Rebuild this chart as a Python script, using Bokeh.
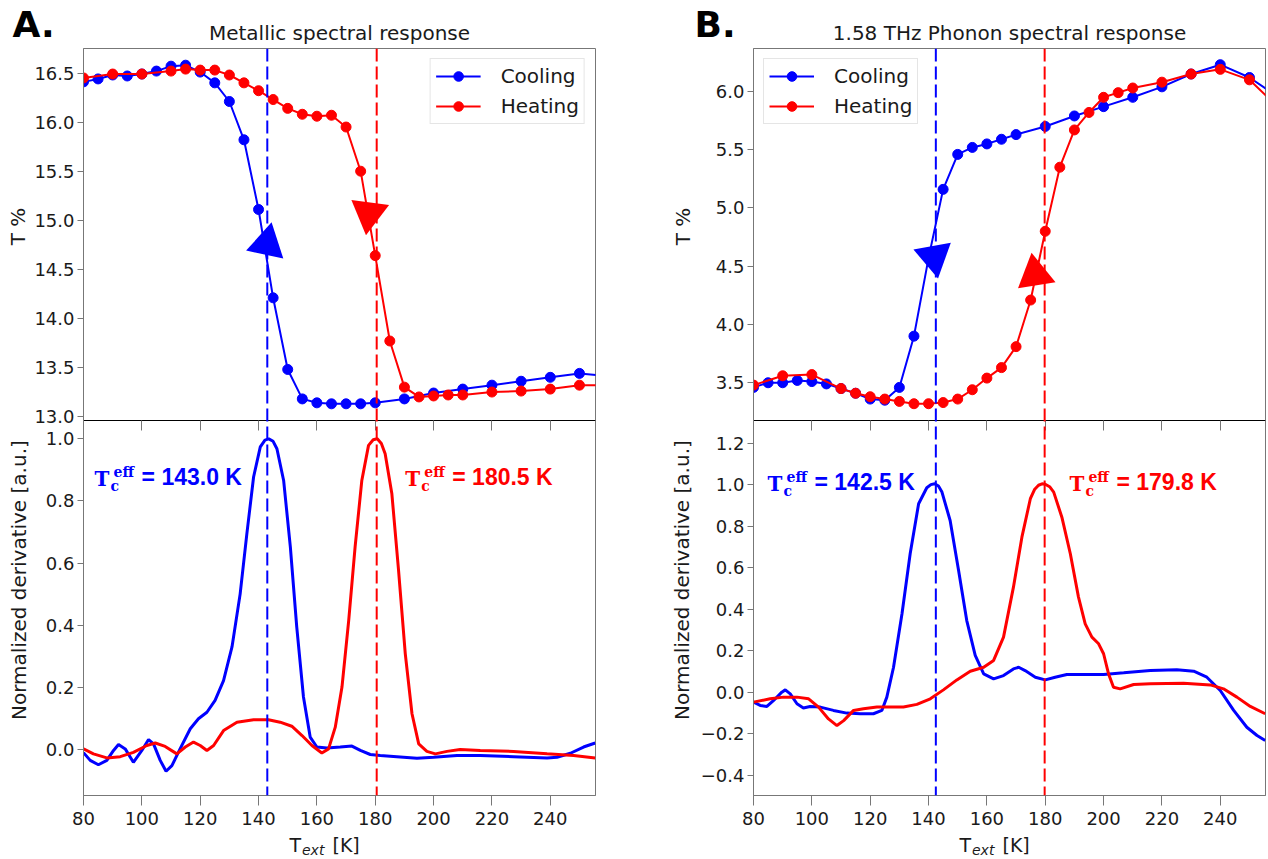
import math
from bokeh.plotting import figure
from bokeh.layouts import row, column
from bokeh.models import (Range1d, FixedTicker, Span, Label, LinearAxis,
                          CustomJSTickFormatter)
from bokeh.embed import file_html
from bokeh.resources import INLINE

# ---------------------------------------------------------------- data
# Panel A : metallic spectral response (T %)
A_cool_T = [80, 85, 90, 95, 100, 105, 110, 115, 120, 125, 130, 135, 140, 145, 150,
            155, 160, 165, 170, 175, 180, 190, 200, 210, 220, 230, 240, 250, 260]
A_cool_v = [16.41, 16.44, 16.48, 16.47, 16.49, 16.52, 16.57, 16.58, 16.51, 16.40,
            16.21, 15.82, 15.11, 14.21, 13.48, 13.18, 13.14, 13.13, 13.13, 13.13,
            13.14, 13.18, 13.24, 13.28, 13.32, 13.36, 13.40, 13.44, 13.41]
A_heat_T = [80, 90, 100, 110, 115, 120, 125, 130, 135, 140, 145, 150, 155, 160, 165,
            170, 175, 180, 185, 190, 195, 200, 205, 210, 220, 230, 240, 250, 260]
A_heat_v = [16.45, 16.49, 16.49, 16.52, 16.54, 16.53, 16.53, 16.48, 16.40, 16.32,
            16.23, 16.14, 16.08, 16.06, 16.07, 15.95, 15.50, 14.64, 13.77, 13.30,
            13.20, 13.21, 13.22, 13.22, 13.25, 13.26, 13.28, 13.32, 13.32]

# Panel A : normalized derivative
A_dcool_T = [80, 82.3, 85.1, 88, 90.3, 92, 94.3, 97.1, 100, 102.3, 104, 106.3, 108.3,
             110.3, 113.1, 116.6, 119.4, 122.3, 125.1, 128, 130.9, 133.7, 136, 138.3,
             140.6, 142.2, 143.5, 145.0, 146.3, 148.6, 150.9, 153.1, 155.4, 157.7, 160,
             163.4, 168, 172, 174.9, 178.3, 181.7, 187.4, 194.3, 200, 208, 216, 227.4,
             238.9, 242.3, 246.9, 251.4, 255.4]
A_dcool_v = [-0.01, -0.035, -0.049, -0.035, -0.003, 0.016, 0.002, -0.041, -0.003,
             0.032, 0.018, -0.035, -0.07, -0.052, 0.002, 0.067, 0.099, 0.12, 0.158,
             0.222, 0.33, 0.501, 0.695, 0.877, 0.974, 0.996, 1.0, 0.992, 0.968, 0.866,
             0.652, 0.394, 0.169, 0.04, 0.008, 0.005, 0.008, 0.011, -0.003, -0.016,
             -0.019, -0.023, -0.028, -0.025, -0.019, -0.019, -0.023, -0.027, -0.025,
             -0.012, 0.008, 0.021]
A_dheat_T = [80, 83.4, 88, 92.6, 97.1, 101.7, 104.6, 108, 112, 114.9, 117.7, 120,
             122.3, 124.6, 128, 132.6, 138.3, 143.4, 147.4, 151.4, 154.9, 158.3, 161.7,
             164, 166.3, 168.6, 170.9, 173.1, 175.4, 177.7, 179.3, 180.7, 182.1, 183.4,
             185.7, 188, 190.3, 192.6, 194.9, 197.7, 200.6, 204.6, 209.1, 216, 227.4,
             238.9, 248, 255.4]
A_dheat_v = [0.002, -0.014, -0.027, -0.023, -0.009, 0.013, 0.021, 0.01, -0.014, 0.008,
             0.024, 0.013, -0.003, 0.013, 0.061, 0.088, 0.096, 0.096, 0.088, 0.075,
             0.045, 0.013, -0.011, 0.002, 0.072, 0.201, 0.415, 0.652, 0.866, 0.979,
             0.997, 1.0, 0.985, 0.952, 0.823, 0.576, 0.308, 0.115, 0.018, -0.006,
             -0.014, -0.006, 0.0, -0.003, -0.006, -0.014, -0.019, -0.027]

# Panel B : 1.58 THz phonon spectral response (T %)
B_cool_T = [80, 85, 90, 95, 100, 105, 110, 115, 120, 125, 130, 135, 140, 145, 150,
            155, 160, 165, 170, 180, 190, 200, 210, 220, 230, 240, 250, 260]
B_cool_v = [3.46, 3.50, 3.50, 3.52, 3.51, 3.49, 3.45, 3.41, 3.36, 3.35, 3.46, 3.90,
            4.57, 5.16, 5.46, 5.52, 5.55, 5.59, 5.63, 5.70, 5.79, 5.87, 5.95, 6.04,
            6.15, 6.23, 6.12, 5.95]
B_heat_T = [80, 90, 100, 110, 115, 120, 125, 130, 135, 140, 145, 150, 155, 160, 165,
            170, 175, 180, 185, 190, 195, 200, 205, 210, 220, 230, 240, 250, 260]
B_heat_v = [3.48, 3.56, 3.57, 3.45, 3.41, 3.38, 3.36, 3.34, 3.32, 3.32, 3.33, 3.36,
            3.44, 3.54, 3.63, 3.81, 4.21, 4.80, 5.35, 5.67, 5.82, 5.95, 5.99, 6.03,
            6.08, 6.15, 6.19, 6.10, 5.86]

# Panel B : normalized derivative
B_dcool_T = [80, 82.3, 84.6, 86.9, 89.7, 90.9, 92.6, 94.9, 97.1, 99.4, 102.9, 107.4,
             112, 116.6, 121.1, 124, 125.7, 128, 130.9, 133.7, 136.6, 139.4, 140.8,
             142.1, 143.4, 144.6, 147.4, 150.3, 153.1, 156, 158.9, 162.3, 165.7, 169.1,
             170.9, 173.1, 176.6, 180, 183.4, 187.4, 193.1, 200, 206.9, 216, 225.1,
             230.9, 235.4, 240, 244.6, 249.1, 252.6, 255.4]
B_dcool_v = [-0.048, -0.064, -0.069, -0.04, 0.0, 0.011, -0.008, -0.056, -0.076,
             -0.069, -0.072, -0.088, -0.101, -0.104, -0.104, -0.088, -0.024, 0.12,
             0.378, 0.667, 0.908, 0.985, 1.0, 1.004, 0.993, 0.964, 0.827, 0.586, 0.345,
             0.177, 0.088, 0.064, 0.08, 0.112, 0.12, 0.104, 0.072, 0.059, 0.072,
             0.085, 0.085, 0.085, 0.093, 0.104, 0.108, 0.101, 0.072, 0.008, -0.088,
             -0.169, -0.209, -0.233]
B_dheat_T = [80, 85.7, 90.3, 94.9, 98.9, 102.3, 105.7, 108.6, 110.9, 114.3, 117.7,
             122.3, 126.9, 131.4, 136, 140.6, 145.1, 149.7, 154.3, 158.9, 162.3, 165.7,
             169.1, 172, 174.9, 176.4, 177.7, 178.9, 180, 181.5, 182.9, 185.7, 188.6,
             191.4, 193.7, 196, 198.3, 200, 201.7, 203.4, 205.7, 210.3, 216, 227.4,
             236.6, 241.1, 245.7, 250.3, 255.4]
B_dheat_v = [-0.048, -0.032, -0.024, -0.024, -0.032, -0.072, -0.129, -0.161, -0.137,
             -0.088, -0.08, -0.072, -0.072, -0.072, -0.059, -0.032, 0.011, 0.059,
             0.101, 0.12, 0.153, 0.265, 0.506, 0.747, 0.932, 0.978, 0.997, 1.004,
             1.002, 0.99, 0.964, 0.843, 0.667, 0.458, 0.329, 0.265, 0.233, 0.185,
             0.088, 0.024, 0.016, 0.037, 0.04, 0.043, 0.035, 0.016, -0.024, -0.069,
             -0.104]

# effective critical temperatures
A_tc_cool, A_tc_heat = 143.0, 180.5
B_tc_cool, B_tc_heat = 142.5, 179.8

# direction arrows (T, value, angle in rad) : cooling, heating
A_arrow_T = [142.9, 177.8]
A_arrow_v = [14.76, 15.07]
A_arrow_a = [-0.21, -(math.pi + 0.13)]
B_arrow_T = [141.9, 176.5]
B_arrow_v = [4.58, 4.43]
B_arrow_a = [-(math.pi - 0.18), 0.16]

# ticks
x_ticks = [80, 100, 120, 140, 160, 180, 200, 220, 240]
A_top_ticks = [13.0, 13.5, 14.0, 14.5, 15.0, 15.5, 16.0, 16.5]
A_bot_ticks = [0.0, 0.2, 0.4, 0.6, 0.8, 1.0]
B_top_ticks = [3.5, 4.0, 4.5, 5.0, 5.5, 6.0]
B_bot_ticks = [-0.4, -0.2, 0.0, 0.2, 0.4, 0.6, 0.8, 1.0, 1.2]

# ---------------------------------------------------------------- style
BLUE = "#0000ff"
RED = "#ff0000"
TXT = "#1a1a1a"
GRAY = "#777777"
FONT = "DejaVu Sans"
X_RANGE = (80, 255.5)
FRAME_W = 512
TOP_H = 372          # upper sub-plot height (px)
BOT_H = 375          # lower sub-plot height (px)
HEADER_H = 46
FOOTER_H = 23
TOTAL_W = 1268
PANEL_H = 2 + TOP_H + BOT_H + 40
MID = 0.346          # centre of the em box above the baseline (em)

A_LEFT, A_RIGHT, A_STRIP = 53, 10, 30
B_LEFT, B_RIGHT = 59, 3
B_STRIP = TOTAL_W - (A_STRIP + A_LEFT + FRAME_W + A_RIGHT) - (B_LEFT + FRAME_W + B_RIGHT)


def style_axis(ax, ticks, tick_out, standoff):
    ax.ticker = FixedTicker(ticks=ticks)
    ax.major_tick_out = tick_out
    ax.major_tick_in = 0
    ax.minor_tick_line_color = None
    ax.major_tick_line_color = GRAY
    ax.axis_line_color = GRAY
    ax.major_label_text_font = FONT
    ax.major_label_text_font_size = "18px"
    ax.major_label_text_color = TXT
    ax.major_label_standoff = standoff


def lbl(fig, text, x, y, size, font=FONT, style="normal", color=TXT, align="left",
        x_off=0, base_off=0, angle=0):
    """label placed by its alphabetic baseline (y) using the middle anchor"""
    fig.add_layout(Label(x=x, y=y, x_offset=x_off, y_offset=base_off + MID * size,
                         text=text, text_font=font, text_font_style=style,
                         text_font_size=f"{size}px", text_color=color,
                         text_align=align, text_baseline="middle", angle=angle))


def tc_annotation(fig, x, y, tc, color):
    lbl(fig, "T", x, y, 20, font="DejaVu Serif", style="bold", color=color)
    lbl(fig, "c", x, y, 14, font="DejaVu Serif", style="bold", color=color,
        x_off=16, base_off=-5)
    lbl(fig, "eff", x, y, 14, font="DejaVu Serif", style="bold", color=color,
        x_off=19, base_off=9)
    lbl(fig, f"= {tc:.1f} K", x, y, 23, font="Liberation Sans", style="bold",
        color=color, x_off=47)


def panel(cT, cv, hT, hv, dcT, dcv, dhT, dhv, tcc, tch, arT, arv, ara,
          top_lim, top_ticks, bot_lim, bot_ticks, legend_loc, left_b, right_b,
          ann_c, ann_h, ann_y):
    total = TOP_H + BOT_H
    b0 = bot_lim[0]
    bot_end = b0 + (bot_lim[1] - b0) * total / BOT_H
    top_start = top_lim[1] - (top_lim[1] - top_lim[0]) * total / TOP_H
    k = (bot_end - b0) / (top_lim[1] - top_start)

    p = figure(frame_width=FRAME_W, frame_height=total,
               x_range=Range1d(*X_RANGE), y_range=Range1d(b0, bot_end),
               output_backend="svg", toolbar_location=None,
               min_border_left=left_b, min_border_right=right_b,
               min_border_top=2, min_border_bottom=40)
    p.extra_y_ranges = {"top": Range1d(top_start, top_lim[1])}
    p.xgrid.visible = False
    p.ygrid.visible = False
    p.outline_line_color = GRAY
    p.background_fill_color = "white"
    p.border_fill_color = "white"

    # one left axis carrying the ticks of both stacked sub-plots
    top_pos = [b0 + (v - top_start) * k for v in top_ticks]
    ax = p.yaxis[0]
    style_axis(ax, list(bot_ticks) + top_pos, 6, 3)
    ax.formatter = CustomJSTickFormatter(
        args=dict(sep=bot_lim[1], b0=b0, ts=top_start, k=k),
        code="""
        let v = tick;
        if (tick > sep) { v = ts + (tick - b0) / k; }
        return v.toFixed(1).replace('-', '\\u2212');
        """)
    style_axis(p.xaxis[0], x_ticks, 10, 6)

    # boundary between the two sub-plots with inward ticks
    sep = LinearAxis(fixed_location=bot_lim[1], ticker=FixedTicker(ticks=x_ticks),
                     major_tick_out=10, major_tick_in=0, major_label_text_color=None,
                     axis_line_color="black", major_tick_line_color=GRAY,
                     minor_tick_line_color=None)
    p.add_layout(sep, "below")

    for sp_loc, col in ((tcc, BLUE), (tch, RED)):
        p.add_layout(Span(location=sp_loc, dimension="height", line_color=col,
                          line_width=2, line_dash="13 5"))

    # upper: transmission
    p.line(cT, cv, color=BLUE, line_width=2, legend_label="Cooling", y_range_name="top")
    p.scatter(cT, cv, marker="circle", size=10, color=BLUE, legend_label="Cooling",
              y_range_name="top")
    p.line(hT, hv, color=RED, line_width=2, legend_label="Heating", y_range_name="top")
    p.scatter(hT, hv, marker="circle", size=10, color=RED, legend_label="Heating",
              y_range_name="top")
    p.scatter(arT, arv, marker="triangle", size=38, angle=ara,
              color=[BLUE, RED], line_width=0, y_range_name="top")

    # lower: normalized derivative
    p.line(dcT, dcv, color=BLUE, line_width=3)
    p.line(dhT, dhv, color=RED, line_width=3)
    tc_annotation(p, ann_c, ann_y, tcc, BLUE)
    tc_annotation(p, ann_h, ann_y, tch, RED)

    lg = p.legend[0]
    lg.location = legend_loc
    lg.label_text_font = FONT
    lg.label_text_font_size = "20px"
    lg.label_text_color = TXT
    lg.glyph_width = 45
    lg.glyph_height = 24
    lg.label_height = 24
    lg.label_standoff = 20
    lg.spacing = 6
    lg.padding = 5
    lg.margin = 10
    lg.border_line_color = "#cccccc"
    lg.border_line_width = 1
    lg.background_fill_alpha = 0.8
    return p


def strip(width, height):
    s = figure(width=width, height=height, x_range=Range1d(0, width),
               y_range=Range1d(height, 0), output_backend="svg",
               toolbar_location=None, x_axis_location=None, y_axis_location=None,
               min_border=0)
    s.xgrid.visible = False
    s.ygrid.visible = False
    s.outline_line_color = None
    s.border_fill_color = "white"
    s.background_fill_color = "white"
    return s


pA = panel(A_cool_T, A_cool_v, A_heat_T, A_heat_v, A_dcool_T, A_dcool_v, A_dheat_T,
           A_dheat_v, A_tc_cool, A_tc_heat, A_arrow_T, A_arrow_v, A_arrow_a,
           (12.96, 16.75), A_top_ticks, (-0.148, 1.059), A_bot_ticks, "top_right",
           A_LEFT, A_RIGHT, 83.8, 190.3, 0.85)
pB = panel(B_cool_T, B_cool_v, B_heat_T, B_heat_v, B_dcool_T, B_dcool_v, B_dheat_T,
           B_dheat_v, B_tc_cool, B_tc_heat, B_arrow_T, B_arrow_v, B_arrow_a,
           (3.176, 6.369), B_top_ticks, (-0.498, 1.309), B_bot_ticks, "top_left",
           B_LEFT, B_RIGHT, 84.8, 188.3, 0.972)

# y axis labels (one per stacked sub-plot), local y measured from the top
top_mid = 2 + TOP_H / 2
bot_mid = 2 + TOP_H + BOT_H / 2
sA = strip(A_STRIP, PANEL_H)
sB = strip(B_STRIP, PANEL_H)
for s, xt, xb in ((sA, 17, 18), (sB, B_STRIP - 12, B_STRIP - 13)):
    s.add_layout(Label(x=xt, y=top_mid, text="T %", text_font=FONT,
                       text_font_size="20px", text_color=TXT, text_align="center",
                       text_baseline="middle", angle=math.pi / 2))
    s.add_layout(Label(x=xb, y=bot_mid, text="Normalized derivative [a.u.]",
                       text_font=FONT, text_font_size="20px", text_color=TXT,
                       text_align="center", text_baseline="middle",
                       angle=math.pi / 2))

# header: panel letters and titles (baseline positions)
head = strip(TOTAL_W, HEADER_H)
for txt, x in (("A.", 12), ("B.", 694)):
    head.add_layout(Label(x=x, y=36.7, y_offset=MID * 36, text=txt, text_font=FONT,
                          text_font_style="bold", text_font_size="36px",
                          text_color="black", text_baseline="middle"))
for txt, x in (("Metallic spectral response", 339),
               ("1.58 THz Phonon spectral response", 1009)):
    head.add_layout(Label(x=x, y=39.3, y_offset=MID * 20, text=txt, text_font=FONT,
                          text_font_size="20px", text_color=TXT, text_align="center",
                          text_baseline="middle"))

# footer: x axis labels  T_ext [K]
foot = strip(TOTAL_W, FOOTER_H)
for x0 in (289, 959):
    foot.add_layout(Label(x=x0, y=15.7, y_offset=MID * 19, text="T", text_font=FONT,
                          text_font_size="19px", text_color=TXT,
                          text_baseline="middle"))
    foot.add_layout(Label(x=x0 + 12.5, y=19, y_offset=MID * 14, text="ext",
                          text_font=FONT, text_font_style="italic",
                          text_font_size="14px", text_color=TXT,
                          text_baseline="middle"))
    foot.add_layout(Label(x=x0 + 43, y=15.7, y_offset=MID * 19, text="[K]",
                          text_font=FONT, text_font_size="19px", text_color=TXT,
                          text_baseline="middle"))

layout = column(head, row(sA, pA, sB, pB), foot)
open("out.html", "w").write(file_html(layout, INLINE))
